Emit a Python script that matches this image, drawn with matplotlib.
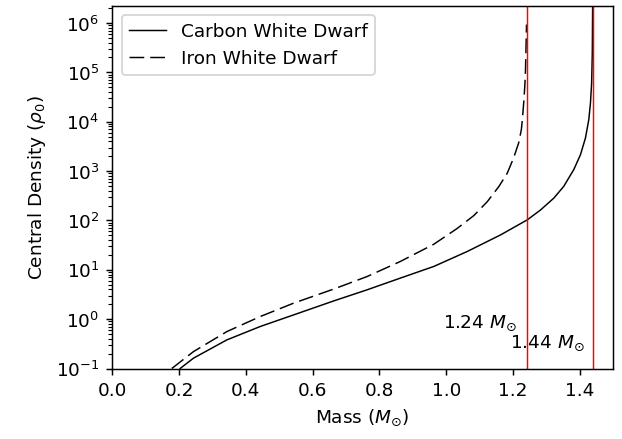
import matplotlib

matplotlib.use("Agg")
import matplotlib.pyplot as plt

# values (mass in solar masses, density in rho_0)
carbon_mass = [0.203, 0.243, 0.343, 0.443, 0.543, 0.663, 0.763, 0.863, 0.963, 1.063,
               1.163, 1.243, 1.282, 1.322, 1.352, 1.382, 1.402, 1.417, 1.427, 1.432,
               1.4355, 1.4375, 1.4385]
carbon_rho = [0.1, 0.162, 0.38, 0.71, 1.22, 2.34, 3.93, 6.8, 11.7, 23.5,
              51, 103, 162, 282, 490, 1070, 2140, 4680, 11000, 24000,
              60000, 2.5e5, 2.2e6]

iron_mass = [0.178, 0.243, 0.343, 0.443, 0.543, 0.663, 0.763, 0.863, 0.963, 1.033,
             1.083, 1.123, 1.158, 1.183, 1.202, 1.217, 1.225, 1.228, 1.232, 1.2355,
             1.2375, 1.2405]
iron_rho = [0.1, 0.22, 0.56, 1.13, 2.11, 4.07, 7.3, 14.8, 33, 69,
            126, 240, 490, 912, 1860, 3720, 6900, 11000, 24000, 55000,
            1.15e5, 9.3e5]

limit_mass = [1.2405, 1.4385]
limit_labels = ["1.24 $M_{\\odot}$", "1.44 $M_{\\odot}$"]
label_pos = [(0.99, 0.67), (1.19, 0.27)]

DPI = 133
fig = plt.figure(figsize=(622.5 / DPI, 439.5 / DPI), dpi=DPI)
ax = fig.add_axes([0.1805, 0.1604, 0.985 - 0.1805, 0.9863 - 0.1604])

ax.plot(carbon_mass, carbon_rho, color="black", lw=0.8, label="Carbon White Dwarf")
ax.plot(iron_mass, iron_rho, color="black", lw=0.8, linestyle=(0, (10, 4)),
        label="Iron White Dwarf")

for m in limit_mass:
    ax.axvline(m, color="red", lw=0.8)
for lab, (x, y) in zip(limit_labels, label_pos):
    ax.text(x, y, lab, fontsize=10)

ax.set_yscale("log")
ax.set_xlim(0, 1.5)
ax.set_ylim(0.1, 2.26e6)
ax.set_xlabel("Mass ($M_{\\odot}$)")
ax.set_ylabel("Central Density ($\\rho_0$)")
ax.legend(loc="upper left")

fig.savefig("out.png", dpi=DPI)
plt.close(fig)
